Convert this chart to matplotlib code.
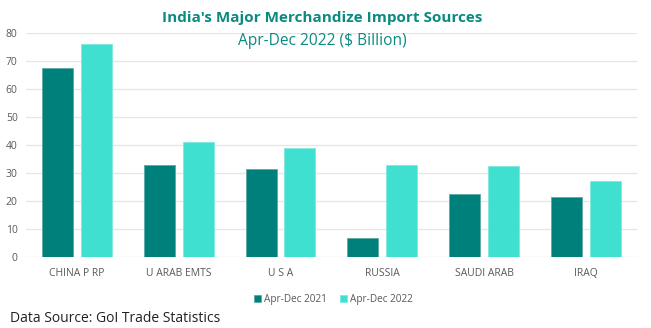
import matplotlib
matplotlib.use("Agg")
import matplotlib.pyplot as plt
import numpy as np

categories = ["CHINA P RP", "U ARAB EMTS", "U S A", "RUSSIA", "SAUDI ARAB", "IRAQ"]
series_2021 = [67.7, 32.9, 31.3, 6.6, 22.5, 21.3]
series_2022 = [76.0, 40.9, 38.9, 32.8, 32.4, 27.2]
series_names = ["Apr-Dec 2021", "Apr-Dec 2022"]
yticks = [0, 10, 20, 30, 40, 50, 60, 70, 80]

dark = "#00807A"
light = "#40E0D0"
tick_col = "#595959"

fig = plt.figure(figsize=(6.51, 3.28), dpi=100)
ax = fig.add_axes([0.040, 0.2174, 0.938, 0.6811])

x = np.arange(len(categories))
w = 0.305
off = 0.19
ax.bar(x - off, series_2021, w, color=dark, edgecolor="#5fa9a5", linewidth=0.6, label=series_names[0], zorder=3)
ax.bar(x + off, series_2022, w, color=light, edgecolor="#7fe9de", linewidth=0.6, label=series_names[1], zorder=3)

ax.set_xlim(-0.5, len(categories) - 0.5)
ax.set_ylim(0, 80)
ax.set_yticks(yticks)
ax.set_xticks(x)
ax.set_xticklabels(categories)
ax.grid(axis="y", color="#e6e6ea", linewidth=1.0, zorder=0)
for s in ax.spines.values():
    s.set_visible(False)
ax.tick_params(axis="both", length=0, labelsize=7.5, labelcolor=tick_col)
ax.tick_params(axis="x", pad=8)
ax.tick_params(axis="y", pad=6)
for lab in ax.get_xticklabels() + ax.get_yticklabels():
    lab.set_fontfamily("Open Sans")

fig.text(0.495, 0.945, "India's Major Merchandize Import Sources", ha="center", va="center",
         fontsize=11, fontweight="bold", color="#0a8a82", family="Open Sans")
fig.text(0.495, 0.875, "Apr-Dec 2022 ($ Billion)", ha="center", va="center",
         fontsize=11.2, color="#0a8a82", family="Open Sans")

leg = fig.legend(loc="center", bbox_to_anchor=(0.512, 0.087), ncol=2, frameon=False,
                 handlelength=0.7, handleheight=0.7, handletextpad=0.3,
                 columnspacing=1.3, prop={"family": "Open Sans", "size": 7.2})
for t in leg.get_texts():
    t.set_color(tick_col)

fig.text(0.015, 0.03, "Data Source: GoI Trade Statistics", ha="left", va="center",
         fontsize=10, color="#222222", family="Open Sans")

fig.savefig("out.png", dpi=100)
